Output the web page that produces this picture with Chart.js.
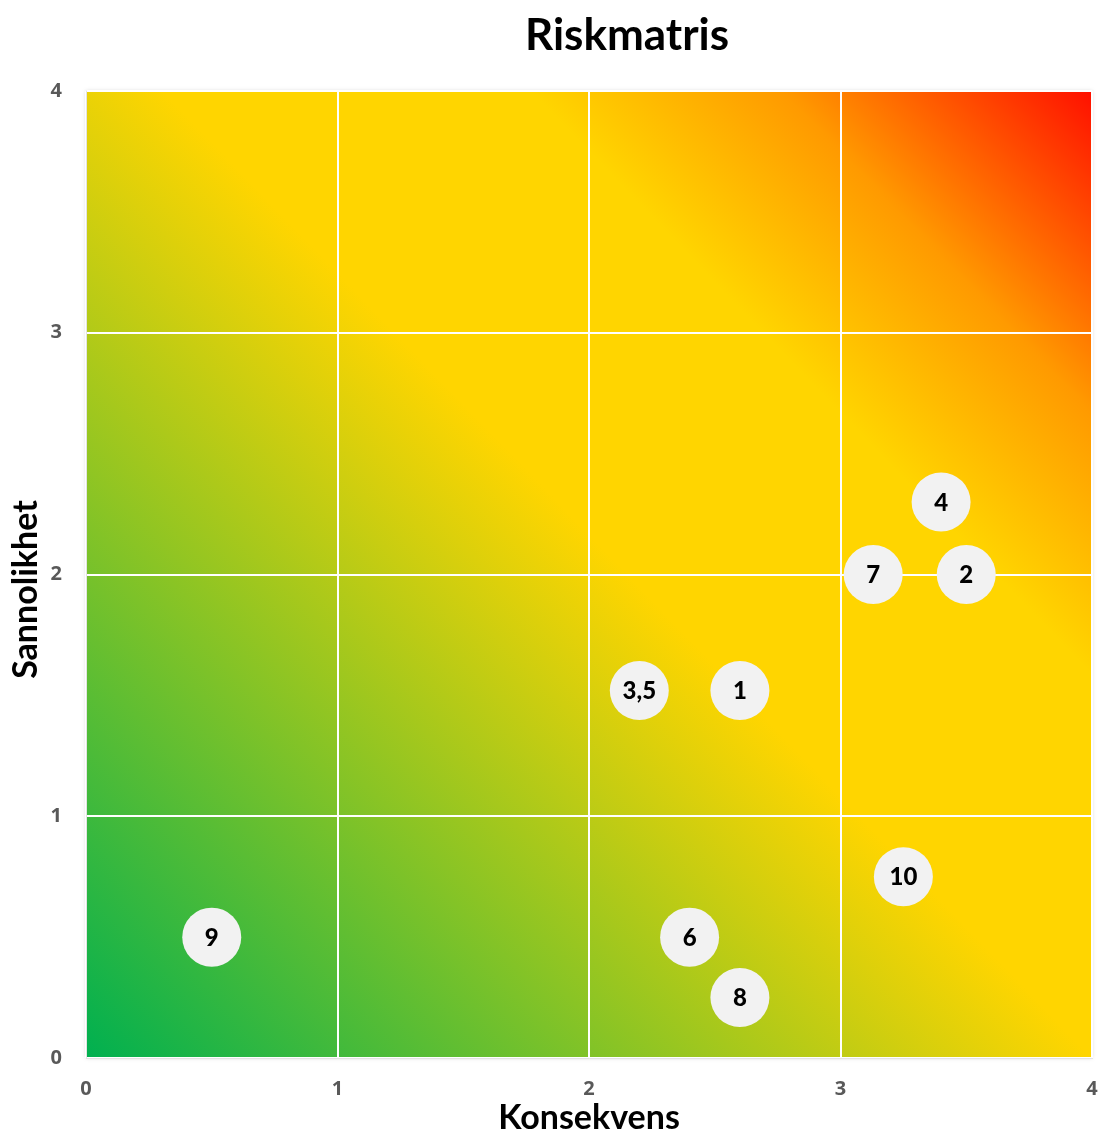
<!DOCTYPE html>
<html>
<head>
<meta charset="utf-8">
<script src="https://cdn.jsdelivr.net/npm/chart.js"></script>
<style>
  html, body { margin: 0; padding: 0; background: #fff; overflow: hidden; }
  #wrap { width: 1100px; height: 1135px; }
</style>
</head>
<body>
<div id="wrap"><canvas id="riskChart"></canvas></div>
<script>
// Risk points: label, consequence (x), probability (y)
const pointLabels = ["1", "3,5", "4", "7", "2", "10", "9", "6", "8"];
const konsekvens = [2.6, 2.2, 3.4, 3.13, 3.5, 3.25, 0.5, 2.4, 2.6];
const sannolikhet = [1.52, 1.52, 2.3, 2.0, 2.0, 0.75, 0.5, 0.5, 0.25];
const tickValues = [0, 1, 2, 3, 4];

// Diagonal green -> yellow -> red background
const bgPlugin = {
  id: "riskBackground",
  beforeDraw(chart) {
    const { ctx, chartArea: a } = chart;
    const g = ctx.createLinearGradient(a.left, a.bottom, a.right, a.top);
    g.addColorStop(0, "#00B050");
    g.addColorStop(0.52, "#FFD500");
    g.addColorStop(0.71, "#FFD500");
    g.addColorStop(0.84, "#FF9A00");
    g.addColorStop(1, "#FF1000");
    ctx.save();
    ctx.shadowColor = "rgba(0,0,0,0.18)";
    ctx.shadowBlur = 4;
    ctx.fillStyle = g;
    ctx.fillRect(a.left, a.top, a.right - a.left, a.bottom - a.top);
    ctx.restore();
  },
};

// Text inside each bubble
const labelPlugin = {
  id: "bubbleLabels",
  afterDatasetsDraw(chart) {
    const { ctx } = chart;
    const meta = chart.getDatasetMeta(0);
    ctx.save();
    ctx.font = "900 24px Lato";
    ctx.fillStyle = "#000";
    ctx.textAlign = "center";
    ctx.textBaseline = "middle";
    meta.data.forEach((pt, i) => {
      ctx.fillText(pointLabels[i], pt.x, pt.y + 1);
    });
    ctx.restore();
  },
};

// Chart title and y-axis title, drawn by hand to match their offsets
const titlePlugin = {
  id: "riskTitles",
  afterDraw(chart) {
    const { ctx, chartArea: a } = chart;
    ctx.save();
    ctx.fillStyle = "#000";
    ctx.textAlign = "center";
    ctx.textBaseline = "middle";
    ctx.font = "bold 44px Lato";
    ctx.fillText("Riskmatris", 627, 36);
    ctx.translate(26, (a.top + a.bottom) / 2 + 15);
    ctx.rotate(-Math.PI / 2);
    ctx.font = "bold 34px Lato";
    ctx.fillText("Sannolikhet", 0, 0);
    ctx.restore();
  },
};

const tickFont = { family: "Open Sans", size: 20, weight: "bold" };

new Chart(document.getElementById("riskChart"), {
  type: "scatter",
  data: {
    datasets: [
      {
        label: "Risker",
        data: konsekvens.map((x, i) => ({ x: x, y: sannolikhet[i] })),
        backgroundColor: "#F2F2F2",
        borderColor: "#F2F2F2",
        borderWidth: 0,
        pointRadius: 29.5,
        pointHoverRadius: 29.5,
      },
    ],
  },
  options: {
    responsive: true,
    maintainAspectRatio: false,
    animation: false,
    layout: { autoPadding: false, padding: { top: 91, right: 8, left: 0, bottom: 0 } },
    plugins: {
      legend: { display: false },
      tooltip: { enabled: false },
      title: { display: false },
    },
    scales: {
      x: {
        type: "linear",
        min: 0,
        max: 4,
        afterBuildTicks: (s) => { s.ticks = tickValues.map((v) => ({ value: v })); },
        afterFit: (s) => {
          s.height = 77;
          s.paddingLeft = 0;
          s.paddingRight = 0;
        },
        ticks: { font: tickFont, color: "#595959", padding: 19 },
        grid: { color: "#FFFFFF", lineWidth: 2, drawTicks: false },
        border: { display: true, color: "#E3E3E3", width: 1 },
        title: {
          display: true,
          text: "Konsekvens",
          font: { family: "Lato", size: 34, weight: "bold", lineHeight: 1.0 },
          color: "#000",
          padding: { top: 0, bottom: 0 },
        },
      },
      y: {
        type: "linear",
        min: 0,
        max: 4,
        afterBuildTicks: (s) => { s.ticks = tickValues.map((v) => ({ value: v })); },
        afterFit: (s) => {
          s.width = 86;
          s.paddingTop = 0;
          s.paddingBottom = 0;
        },
        ticks: { font: tickFont, color: "#595959", padding: 24 },
        grid: { color: "#FFFFFF", lineWidth: 2, drawTicks: false },
        border: { display: true, color: "#E3E3E3", width: 1 },
        title: { display: false },
      },
    },
  },
  plugins: [bgPlugin, labelPlugin, titlePlugin],
});
</script>
</body>
</html>
